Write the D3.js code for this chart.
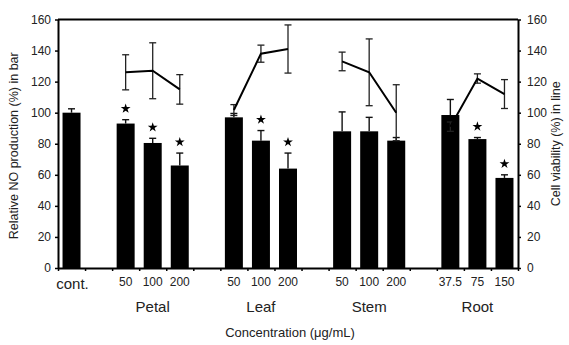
<!DOCTYPE html>
<html>
<head>
<meta charset="utf-8">
<script src="https://cdn.jsdelivr.net/npm/d3@7"></script>
<style>
  body { margin: 0; background: #fff; }
  text { font-family: "Liberation Sans", Arial, sans-serif; fill: #222; }
</style>
</head>
<body>
<div id="chart"></div>
<script>
// groups along the x axis, each with its concentrations
const groups = ["cont.", "Petal", "Leaf", "Stem", "Root"];
const concentrations = [["cont."], ["50", "100", "200"], ["50", "100", "200"], ["50", "100", "200"], ["37.5", "75", "150"]];

// relative NO production (%) - bars, one per concentration in order
const barValues = [100, 93, 80.5, 66, 97, 82, 64, 88, 88, 82, 98.5, 83, 58];
const barErrors = [2.5, 2.5, 3, 8, 2.5, 6.5, 10, 12.5, 9, 2, 10, 1, 2];
const significant = [false, true, true, true, false, true, true, false, false, false, false, true, true];

// cell viability (%) - line, extract groups only
const lineValues = [126, 127, 115, 101.7, 138, 141, 133, 126, 100, 91, 122, 112];
const lineErrors = [11.3, 18, 9.5, 3.5, 5.5, 15.5, 6, 21.5, 18, 3, 3, 9.3];

const yTicks = [0, 20, 40, 60, 80, 100, 120, 140, 160];

const width = 569, height = 345;
const margin = { top: 19.5, right: 51, bottom: 77, left: 58 };

const svg = d3.select("#chart").append("svg")
  .attr("width", width)
  .attr("height", height);

// build the slot domain, one empty slot between groups
const domain = [];
const bars = [];
let k = 0;
groups.forEach((g, gi) => {
  if (gi > 0) domain.push("gap" + gi);
  concentrations[gi].forEach(c => {
    const key = g + "|" + c;
    domain.push(key);
    bars.push({ key, group: g, conc: c, value: barValues[k], err: barErrors[k], sig: significant[k] });
    k++;
  });
});

const x0 = margin.left, x1 = width - margin.right;
const y0 = height - margin.bottom, y1 = margin.top;

const x = d3.scaleBand().domain(domain).range([x0, x1]).paddingInner(0.335).paddingOuter(0.1675);
const slot = d3.scaleLinear().domain([0, domain.length]).range([x0, x1]);
const y = d3.scaleLinear().domain([0, 160]).range([y0, y1]);
const y2 = d3.scaleLinear().domain([0, 160]).range([y0, y1]);
const cx = key => x(key) + x.bandwidth() / 2;

// bars
svg.append("g").selectAll("rect")
  .data(bars)
  .join("rect")
  .attr("x", d => x(d.key))
  .attr("y", d => y(d.value))
  .attr("width", x.bandwidth())
  .attr("height", d => y(0) - y(d.value))
  .attr("fill", "#000");

// bar error bars (upper only)
const capW = 3.5;
const barErr = svg.append("g").attr("stroke", "#111").attr("stroke-width", 1.4);
bars.forEach(d => {
  const top = y(d.value + d.err);
  barErr.append("line").attr("x1", cx(d.key)).attr("x2", cx(d.key)).attr("y1", y(d.value)).attr("y2", top);
  barErr.append("line").attr("x1", cx(d.key) - capW).attr("x2", cx(d.key) + capW).attr("y1", top).attr("y2", top);
});

// significance stars
svg.append("g").selectAll("path")
  .data(bars.filter(d => d.sig))
  .join("path")
  .attr("d", d3.symbol(d3.symbolStar).size(30))
  .attr("transform", d => `translate(${cx(d.key)},${y(d.value + d.err) - 11})`)
  .attr("fill", "#000");

// viability line, one segment per extract group
const lineGroups = [];
let m = 0;
groups.slice(1).forEach((g, gi) => {
  lineGroups.push(concentrations[gi + 1].map(c => ({ key: g + "|" + c, value: lineValues[m], err: lineErrors[m++] })));
});

const line = d3.line().x(d => cx(d.key)).y(d => y2(d.value));
const lineErr = svg.append("g").attr("stroke", "#222").attr("stroke-width", 1.3);
lineGroups.forEach(pts => {
  pts.forEach(d => {
    const a = y2(d.value + d.err), b = y2(d.value - d.err);
    lineErr.append("line").attr("x1", cx(d.key)).attr("x2", cx(d.key)).attr("y1", a).attr("y2", b);
    lineErr.append("line").attr("x1", cx(d.key) - capW).attr("x2", cx(d.key) + capW).attr("y1", a).attr("y2", a);
    lineErr.append("line").attr("x1", cx(d.key) - capW).attr("x2", cx(d.key) + capW).attr("y1", b).attr("y2", b);
  });
  svg.append("path")
    .datum(pts)
    .attr("d", line)
    .attr("fill", "none")
    .attr("stroke", "#000")
    .attr("stroke-width", 2);
});

// top frame line
svg.append("line")
  .attr("x1", x0).attr("x2", x1).attr("y1", y1).attr("y2", y1)
  .attr("stroke", "#000").attr("stroke-width", 2);

// axes
const styleAxis = g => {
  g.select(".domain").attr("stroke", "#000").attr("stroke-width", 2);
  g.selectAll(".tick line").attr("stroke", "#000").attr("stroke-width", 1.5);
  g.selectAll(".tick text").attr("font-size", 12).attr("fill", "#333")
    .style("font-family", '"Liberation Sans", Arial, sans-serif');
};

svg.append("g")
  .attr("transform", `translate(${x0},0)`)
  .call(d3.axisLeft(y).tickValues(yTicks).tickSize(3).tickSizeOuter(0).tickPadding(4))
  .call(styleAxis);

svg.append("g")
  .attr("transform", `translate(${x1},0)`)
  .call(d3.axisRight(y2).tickValues(yTicks).tickSize(3).tickSizeOuter(0).tickPadding(6))
  .call(styleAxis);

svg.append("g")
  .attr("transform", `translate(0,${y0})`)
  .call(d3.axisBottom(slot).tickValues(d3.range(domain.length + 1)).tickSize(3).tickSizeOuter(0).tickFormat(""))
  .call(styleAxis);

// concentration labels under each bar
svg.append("g").selectAll("text")
  .data(bars)
  .join("text")
  .attr("x", d => d.conc === "cont." ? cx(d.key) + 1 : cx(d.key))
  .attr("y", d => d.conc === "cont." ? 289 : 286)
  .attr("text-anchor", "middle")
  .attr("font-size", d => d.conc === "cont." ? 15 : 12)
  .text(d => d.conc);

// group labels
svg.append("g").selectAll("text")
  .data(groups.slice(1).map((g, i) => ({ g, key: g + "|" + concentrations[i + 1][1] })))
  .join("text")
  .attr("x", d => cx(d.key))
  .attr("y", 312)
  .attr("text-anchor", "middle")
  .attr("font-size", 15)
  .text(d => d.g);

// axis titles
svg.append("text")
  .attr("x", 290).attr("y", 337)
  .attr("text-anchor", "middle")
  .attr("font-size", 13)
  .text("Concentration (μg/mL)");

svg.append("text")
  .attr("transform", `translate(18,${(y0 + y1) / 2 + 2}) rotate(-90)`)
  .attr("text-anchor", "middle")
  .attr("font-size", 12.5)
  .text("Relative NO production (%) in bar");

svg.append("text")
  .attr("transform", `translate(560,${(y0 + y1) / 2}) rotate(-90)`)
  .attr("text-anchor", "middle")
  .attr("font-size", 12.5)
  .text("Cell viability (%) in line");
</script>
</body>
</html>
